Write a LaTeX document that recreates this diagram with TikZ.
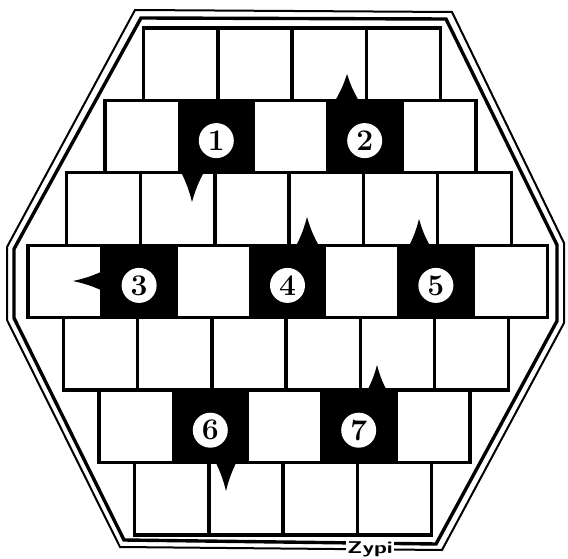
\documentclass[tikz,border=0pt]{standalone}
\usepackage{fontspec}
\newcommand{\thorn}[3]{\fill #1 to[bend left=6] #2 to[bend left=6] #3 -- cycle;}
\begin{document}
\begin{tikzpicture}[x=1pt, y=-1pt,
    gridline/.style={line width=3.4pt},
    numcircle/.style={circle, fill=white, minimum size=35pt, inner sep=0pt,
        font=\bfseries\fontsize{30}{30}\selectfont}]
    % Настройки
    \def\w{74.2}   % ширина клетки
    \def\h{72.4}   % высота клетки
    \def\ytop{28}  % верх первого ряда

    \useasboundingbox (0,0) rectangle (568,559);

    % Двойная рамка
    \draw[line width=2pt] (135,10) -- (452,12) -- (564,243) -- (564,323)
        -- (442,550) -- (120,547) -- (7,320) -- (7,247) -- cycle;
    \draw[line width=3.4pt] (141,18) -- (446,19) -- (557,245) -- (557,321)
        -- (436,544) -- (124,540) -- (14,318) -- (14,249) -- cycle;

    % Черные клетки
    \foreach \r/\c in {2/2, 2/4, 4/2, 4/4, 4/6, 6/2, 6/4} {
        \pgfmathsetmacro\n{7-abs(\r-4)}
        \pgfmathsetmacro\xl{292-1.5*(\r-1)-\n*\w/2+(\c-1)*\w}
        \pgfmathsetmacro\yt{\ytop+(\r-1)*\h}
        \fill (\xl,\yt) rectangle ++(\w,\h);
    }

    % Сетка клеток
    \foreach \r in {1,...,7} {
        \pgfmathtruncatemacro\n{7-abs(\r-4)}
        \foreach \c in {1,...,\n} {
            \pgfmathsetmacro\xl{292-1.5*(\r-1)-\n*\w/2+(\c-1)*\w}
            \pgfmathsetmacro\yt{\ytop+(\r-1)*\h}
            \draw[gridline] (\xl,\yt) rectangle ++(\w,\h);
        }
    }

    % Шипы
    \thorn{(181,172)}{(192,202)}{(204,172)}
    \thorn{(359,101)}{(347,74)}{(335,101)}
    \thorn{(103,271)}{(73,281)}{(103,291)}
    \thorn{(319,246)}{(307,217)}{(296,246)}
    \thorn{(430,246)}{(419,219)}{(409,246)}
    \thorn{(215,461)}{(226,491)}{(237,461)}
    \thorn{(387,391)}{(377,365)}{(367,391)}

    % Номера
    \foreach \r/\c/\k in {2/2/1, 2/4/2, 4/2/3, 4/4/4, 4/6/5, 6/2/6, 6/4/7} {
        \pgfmathsetmacro\n{7-abs(\r-4)}
        \pgfmathsetmacro\xc{292-1.5*(\r-1)-\n*\w/2+(\c-0.5)*\w}
        \pgfmathsetmacro\yc{\ytop+(\r-0.5)*\h+4}
        \node[numcircle] (n\k) at (\xc,\yc) {\k};
    }

    % Подпись
    \node[fill=white, inner sep=1pt, font=\sffamily\bfseries\fontsize{17}{17}\selectfont]
        (sign) at (370,549) {\scalebox{1.35}[1]{Zypi}};

\end{tikzpicture}
\end{document}
